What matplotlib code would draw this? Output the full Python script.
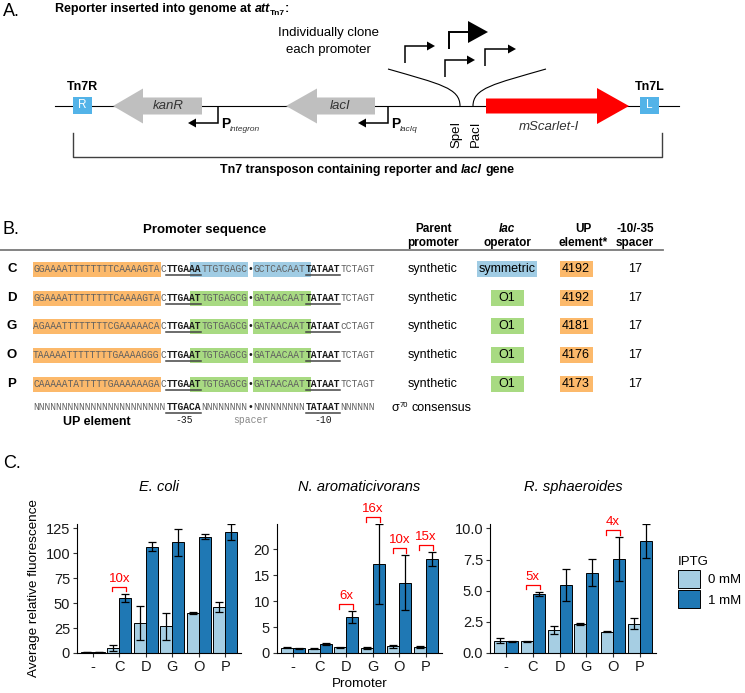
import matplotlib
matplotlib.use('Agg')
import matplotlib.pyplot as plt
import numpy as np
from matplotlib.patches import Rectangle, Polygon, PathPatch
from matplotlib.path import Path

plt.rcParams['font.family'] = ['Liberation Sans', 'DejaVu Sans']

# ---- data -------------------------------------------------------------
promoters = ['C', 'D', 'G', 'O', 'P']
up_seq = ['GGAAAATTTTTTTTCAAAAGTA', 'GGAAAATTTTTTTTCAAAAGTA', 'AGAAATTTTTTTTCGAAAAACA',
          'TAAAAATTTTTTTTGAAAAGGG', 'CAAAAATATTTTTGAAAAAAGA']
box35 = ['TTGAAA', 'TTGAAT', 'TTGAAT', 'TTGAAT', 'TTGAAT']
op_left = ['TTGTGAGC', 'TGTGAGCG', 'TGTGAGCG', 'TGTGAGCG', 'TGTGAGCG']
op_right = ['GCTCACAAT', 'GATAACAAT', 'GATAACAAT', 'GATAACAAT', 'GATAACAAT']
box10 = ['TATAAT'] * 5
downstream = ['TCTAGT', 'TCTAGT', 'cCTAGT', 'TCTAGT', 'TCTAGT']
parent = ['synthetic'] * 5
operator = ['symmetric', 'O1', 'O1', 'O1', 'O1']
up_id = ['4192', '4192', '4181', '4176', '4173']
spacer = ['17'] * 5

cats = ['-', 'C', 'D', 'G', 'O', 'P']
ecoli_0 = [0.8, 5.0, 30.0, 27.0, 40.0, 46.0]
ecoli_0_sd = [0.1, 2.7, 16.8, 13.5, 0.7, 5.0]
ecoli_1 = [0.9, 55.5, 106.5, 111.0, 116.5, 121.5]
ecoli_1_sd = [0.1, 4.2, 4.5, 13.5, 2.5, 8.0]
naro_0 = [1.0, 0.8, 1.1, 1.0, 1.3, 1.2]
naro_0_sd = [0.1, 0.1, 0.1, 0.2, 0.3, 0.15]
naro_1 = [0.95, 1.7, 6.9, 17.2, 13.6, 18.1]
naro_1_sd = [0.1, 0.15, 1.2, 7.7, 5.3, 1.35]
rsph_0 = [1.0, 0.95, 1.85, 2.3, 1.7, 2.35]
rsph_0_sd = [0.22, 0.05, 0.3, 0.08, 0.03, 0.45]
rsph_1 = [0.95, 4.75, 5.45, 6.45, 7.55, 9.0]
rsph_1_sd = [0.03, 0.15, 1.3, 1.1, 1.75, 1.35]
ecoli_fold = [(1, '10x')]
naro_fold = [(2, '6x'), (3, '16x'), (4, '10x'), (5, '15x')]
rsph_fold = [(1, '5x'), (4, '4x')]

# ---- figure / overlay in pixel coords -----------------------------------
W, H = 745, 693
fig = plt.figure(figsize=(W / 100, H / 100), dpi=100)
ax0 = fig.add_axes([0, 0, 1, 1])
ax0.set_xlim(0, W)
ax0.set_ylim(H, 0)
ax0.axis('off')
renderer = fig.canvas.get_renderer()


def rich(x, y, parts, ha='left', size=9, **common):
    # draw several differently styled pieces one after the other
    texts = []
    cx = x
    for s, kw in parts:
        kw = {**common, 'fontsize': size, **kw}
        dy = kw.pop('dy', 0)
        sp = 0.278 * kw['fontsize'] * 100 / 72
        core = s.strip(' ')
        cx += (len(s) - len(s.lstrip(' '))) * sp
        t = ax0.text(cx, y + dy, core, ha='left', va='baseline', **kw)
        cx += t.get_window_extent(renderer).width
        cx += (len(s) - len(s.rstrip(' '))) * sp
        texts.append(t)
    if ha == 'center':
        shift = (cx - x) / 2
        for t in texts:
            t.set_x(t.get_position()[0] - shift)


# ---- panel A ------------------------------------------------------------
ax0.text(3, 12, 'A.', fontsize=13, va='center')
rich(55, 12, [('Reporter inserted into genome at ', {}), ('att', {'style': 'italic'}),
              ('Tn7', {'fontsize': 6, 'dy': 3}), (':', {})], size=9, weight='bold')
ax0.text(328, 33, 'Individually clone', fontsize=9.5, ha='center', va='center')
ax0.text(328, 50, 'each promoter', fontsize=9.5, ha='center', va='center')

line_y = 106
ax0.plot([55, 679], [line_y, line_y], color='black', lw=0.8)


def gene(x_tail, x_tip, half_body, half_head, head_len, color):
    d = 1 if x_tip > x_tail else -1
    xb = x_tip - d * head_len
    pts = [(x_tail, line_y - half_body), (xb, line_y - half_body), (xb, line_y - half_head),
           (x_tip, line_y), (xb, line_y + half_head), (xb, line_y + half_body),
           (x_tail, line_y + half_body)]
    ax0.add_patch(Polygon(pts, closed=True, fc=color, ec='none', zorder=3))


def bent(x, y0, y1, x_tip, head_len, half, lw):
    d = 1 if x_tip > x else -1
    xb = x_tip - d * head_len
    ax0.plot([x, x, xb], [y0, y1, y1], color='black', lw=lw,
             solid_joinstyle='miter', solid_capstyle='butt')
    ax0.add_patch(Polygon([(xb, y1 - half), (x_tip, y1), (xb, y1 + half)], fc='black', ec='none'))


gene(202, 113, 8.5, 17.5, 30, '#BFBFBF')
gene(375, 286, 8.5, 17.5, 31, '#BFBFBF')
gene(486, 629, 7.5, 18, 32, '#FF0000')
ax0.text(168, 106, 'kanR', style='italic', fontsize=9.5, color='#333333', ha='center', va='center', zorder=4)
ax0.text(340, 106, 'lacI', style='italic', fontsize=9.5, color='#333333', ha='center', va='center', zorder=4)
ax0.text(549, 127, 'mScarlet-I', style='italic', fontsize=9.5, color='#333333', ha='center', va='center')

for bx, lab, top in [(73, 'R', 'Tn7R'), (640, 'L', 'Tn7L')]:
    ax0.add_patch(Rectangle((bx, 97), 19, 17, fc='#53B3E8', ec='none', zorder=3))
    ax0.text(bx + 9.5, 105.5, lab, color='white', fontsize=8.5, ha='center', va='center', zorder=4)
    ax0.text(bx + 9.5, 87, top, weight='bold', fontsize=9, ha='center', va='center')

bent(218, 106, 123, 188, 8, 4.5, 1.1)
bent(388, 106, 123, 358, 8, 4.5, 1.1)
rich(221, 128, [('P', {'weight': 'bold'}), ('integron', {'fontsize': 6, 'style': 'italic', 'dy': 3, 'color': '#333333'})], size=10)
rich(391, 128, [('P', {'weight': 'bold'}), ('lacIq', {'fontsize': 6, 'style': 'italic', 'dy': 3, 'color': '#333333'})], size=10)

bent(405, 63, 46, 435, 8, 4.5, 1.1)
bent(449, 49, 32, 488, 20, 11, 1.4)
bent(445, 77, 60, 475, 8, 4.5, 1.1)
bent(485, 66, 49, 516, 8, 4.5, 1.1)

for pts in [[(388, 69), (440, 84), (460, 88), (460, 106)],
            [(546, 69), (494, 84), (473, 88), (473, 106)]]:
    p = Path(pts, [Path.MOVETO, Path.CURVE4, Path.CURVE4, Path.CURVE4])
    ax0.add_patch(PathPatch(p, fc='none', ec='black', lw=0.8))
ax0.text(456, 134, 'SpeI', rotation=90, fontsize=9.5, ha='center', va='center')
ax0.text(476, 134, 'PacI', rotation=90, fontsize=9.5, ha='center', va='center')

ax0.plot([73, 73, 662, 662], [133, 157, 157, 133], color='#404040', lw=1.0)
rich(367, 173, [('Tn7 transposon containing reporter and ', {}), ('lacI', {'style': 'italic'}),
                (' gene', {})], ha='center', size=9, weight='bold')

# ---- panel B ------------------------------------------------------------
ax0.text(3, 230, 'B.', fontsize=13, va='center')
ax0.text(205, 230, 'Promoter sequence', weight='bold', fontsize=9.5, ha='center', va='center')
heads = [(433, 'Parent', 'promoter', 'normal'), (507, 'lac', 'operator', 'italic'),
         (583, 'UP', 'element*', 'normal'), (635, '-10/-35', 'spacer', 'normal')]
for hx, l1, l2, st in heads:
    ax0.text(hx, 229, l1, weight='bold', style=st, fontsize=8.5, ha='center', va='center')
    ax0.text(hx, 243, l2, weight='bold', fontsize=8.5, ha='center', va='center')
ax0.plot([0, 663], [250, 250], color='#7a7a7a', lw=1.3)

x0, cw = 33, 5.8
mono = ['Liberation Mono', 'DejaVu Sans Mono']
gray, dark = '#606060', '#1a1a1a'
up_col, op_col = '#FCB96B', {'symmetric': '#A0CCE4', 'O1': '#A8DA82'}
op_w = {'symmetric': 60, 'O1': 33}
row_y = [269, 298, 326, 355, 384]


def seq_row(y, segs):
    for i0, s, bold in segs:
        ax0.text(x0 + i0 * cw, y, s, family=mono, fontsize=6.96, ha='left', va='center',
                 weight='bold' if bold else 'normal', color=dark if bold else gray, zorder=4)
        if bold and s != '\u2022':
            ax0.plot([x0 + i0 * cw, x0 + (i0 + len(s)) * cw], [y + 5.5, y + 5.5], color='#444444', lw=1.1)


for k, name in enumerate(promoters):
    y = row_y[k]
    ax0.text(12, y, name, weight='bold', fontsize=9.5, ha='center', va='center')
    ax0.add_patch(Rectangle((x0, y - 7.5), 22 * cw, 15, fc=up_col, ec='none', zorder=2))
    for a, b in [(27, 37), (38, 48)]:
        ax0.add_patch(Rectangle((x0 + a * cw, y - 7.5), (b - a) * cw, 15, fc=op_col[operator[k]], ec='none', zorder=2))
    seq_row(y, [(0, up_seq[k], False), (22, 'C', False), (23, box35[k], True), (29, op_left[k], False),
                (37, '\u2022', True), (38, op_right[k], False), (47, box10[k], True), (53, downstream[k], False)])
    ax0.text(433, y, parent[k], fontsize=9, ha='center', va='center')
    w = op_w[operator[k]]
    ax0.add_patch(Rectangle((507 - w / 2, y - 8), w, 16, fc=op_col[operator[k]], ec='none'))
    ax0.text(507, y, operator[k], fontsize=9, ha='center', va='center')
    ax0.add_patch(Rectangle((576 - 16.5, y - 8), 33, 16, fc=up_col, ec='none'))
    ax0.text(576, y, up_id[k], fontsize=9, ha='center', va='center')
    ax0.text(635, y, spacer[k], fontsize=9, ha='center', va='center')

cy = 407
seq_row(cy, [(0, 'N' * 23, False), (23, 'TTGACA', True), (29, 'N' * 8, False), (37, '\u2022', True),
             (38, 'N' * 9, False), (47, 'TATAAT', True), (53, 'N' * 6, False)])
ax0.text(x0 + 11 * cw, 422, 'UP element', weight='bold', fontsize=9, ha='center', va='center')
ax0.text(x0 + 26 * cw, 420, '-35', family=mono, fontsize=7, color=dark, ha='center', va='center')
ax0.text(x0 + 37.5 * cw, 420, 'spacer', family=mono, fontsize=7, color='#888888', ha='center', va='center')
ax0.text(x0 + 50 * cw, 420, '-10', family=mono, fontsize=7, color=dark, ha='center', va='center')
rich(392, 411, [('\u03c3', {}), ('70', {'fontsize': 5.5, 'dy': -4}), (' consensus', {})], size=9)

# ---- panel C ------------------------------------------------------------
ax0.text(3, 463, 'C.', fontsize=13, va='center')


def px_axes(xa, ya, xb, yb):
    return fig.add_axes([xa / W, 1 - yb / H, (xb - xa) / W, (yb - ya) / H])


light, darkb = '#A6CEE3', '#1F78B4'
panels = [
    ('E. coli', (77, 241), ecoli_0, ecoli_0_sd, ecoli_1, ecoli_1_sd, ecoli_fold, np.arange(0, 126, 25), '%d'),
    ('N. aromaticivorans', (277, 442), naro_0, naro_0_sd, naro_1, naro_1_sd, naro_fold, np.arange(0, 21, 5), '%d'),
    ('R. sphaeroides', (490, 656), rsph_0, rsph_0_sd, rsph_1, rsph_1_sd, rsph_fold, np.arange(0, 10.1, 2.5), '%.1f'),
]
x = np.arange(len(cats))
axes = []
for title, (xa, xb), m0, s0, m1, s1, folds, yt, fmt in panels:
    ax = px_axes(xa, 524, xb, 653)
    axes.append(ax)
    m0, s0, m1, s1 = map(np.array, (m0, s0, m1, s1))
    b0 = ax.bar(x - 0.225, m0, 0.45, color=light, edgecolor='black', linewidth=0.7, label='0 mM')
    b1 = ax.bar(x + 0.225, m1, 0.45, color=darkb, edgecolor='black', linewidth=0.7, label='1 mM')
    ax.errorbar(x - 0.225, m0, yerr=s0, fmt='none', ecolor='black', elinewidth=0.9, capsize=3, capthick=0.9)
    ax.errorbar(x + 0.225, m1, yerr=s1, fmt='none', ecolor='black', elinewidth=0.9, capsize=3, capthick=0.9)
    upper = np.maximum(m0 + s0, m1 + s1)
    ax.set_ylim(0, upper.max())
    ax.set_xlim(-0.6, len(cats) - 0.4)
    ax.set_xticks(x)
    ax.set_xticklabels(cats)
    ax.set_yticks(yt)
    ax.set_yticklabels([fmt % v for v in yt])
    for sp in ['top', 'right']:
        ax.spines[sp].set_visible(False)
    for sp in ['left', 'bottom']:
        ax.spines[sp].set_linewidth(0.8)
    ax.tick_params(length=3, width=0.8, labelsize=10.5, color='#333333', labelcolor='#1a1a1a', pad=2)
    ax.set_title(title, style='italic', fontsize=10.5, pad=24)
    ppu = ax.transData.transform((0, 1))[1] - ax.transData.transform((0, 0))[1]
    for i, lab in folds:
        yb = upper[i] + 2.5 / ppu
        yl = yb + 4.5 / ppu
        ax.plot([i - 0.26, i - 0.26, i + 0.26, i + 0.26], [yb, yl, yl, yb], color='red', lw=0.9, clip_on=False)
        ax.text(i, yl + 8 / ppu, lab, color='red', fontsize=9.5, ha='center', va='center', clip_on=False)

axes[0].set_ylabel('Average relative fluorescence', fontsize=9.7, labelpad=4)
axes[1].set_xlabel('Promoter', fontsize=9.7, labelpad=3)
axes[2].legend(handles=[b0, b1], title='IPTG', loc='upper left', bbox_to_anchor=(678 / W, 1 - 556 / H),
               bbox_transform=fig.transFigure, frameon=False, fontsize=9.5, title_fontsize=9.5,
               handlelength=1.65, handleheight=1.75, labelspacing=0.15, handletextpad=0.6,
               borderpad=0, borderaxespad=0, alignment='left')

fig.savefig('out.png', dpi=100)
